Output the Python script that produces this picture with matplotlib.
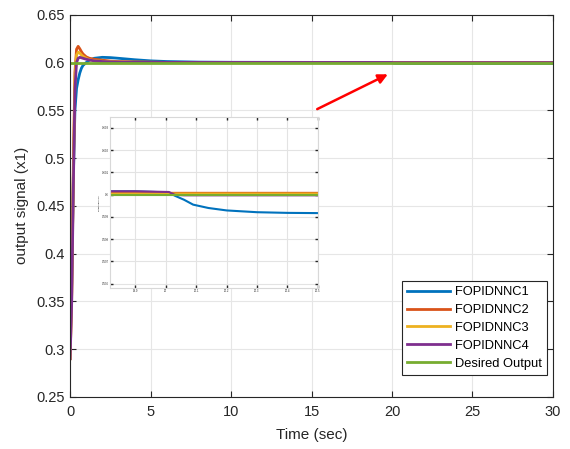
import numpy as np
import matplotlib
matplotlib.use('Agg')
import matplotlib.pyplot as plt

plt.rcParams['font.family'] = ['Liberation Sans', 'DejaVu Sans']

# time samples (s) - dense at start-up and around the disturbance at t=20
time = [0, 0.1, 0.2, 0.3, 0.4, 0.5, 0.6, 0.7, 0.8, 1.0, 1.2, 1.5, 2.0, 2.5, 3.0,
        4.0, 5.0, 6.0, 8.0, 10.0, 15.0, 19.9, 20.01, 20.03, 20.06, 20.09, 20.14,
        20.2, 20.25, 20.3, 20.4, 20.5, 21.0, 22.0, 25.0, 30.0]

fopidnnc1 = [0.30, 0.37, 0.48, 0.55, 0.573, 0.582, 0.589, 0.594, 0.597, 0.600,
             0.6025, 0.6045, 0.6055, 0.6052, 0.6045, 0.603, 0.6018, 0.6011, 0.6005,
             0.6003, 0.6002, 0.60015, 0.6001, 0.59995, 0.59977, 0.59955, 0.5994,
             0.59929, 0.59925, 0.59921, 0.59918, 0.59917, 0.59912, 0.5991, 0.5991, 0.5991]
fopidnnc2 = [0.29, 0.36, 0.49, 0.59, 0.614, 0.617, 0.6145, 0.6115, 0.609, 0.606,
             0.6045, 0.6035, 0.6025, 0.6016, 0.601, 0.6006, 0.6004, 0.6002, 0.60012,
             0.6001, 0.60009, 0.60008, 0.60008, 0.60008, 0.60008, 0.60008, 0.60008,
             0.60008, 0.60008, 0.60008, 0.60008, 0.60008, 0.60008, 0.60008, 0.60008, 0.60008]
fopidnnc3 = [0.29, 0.355, 0.48, 0.585, 0.608, 0.611, 0.610, 0.608, 0.6065, 0.6045,
             0.603, 0.602, 0.6014, 0.601, 0.6007, 0.6005, 0.6003, 0.6002, 0.6001,
             0.60007, 0.60006, 0.60005, 0.60005, 0.60005, 0.60005, 0.60005, 0.60005,
             0.60005, 0.60005, 0.60005, 0.60005, 0.60005, 0.60005, 0.60005, 0.60005, 0.60005]
fopidnnc4 = [0.29, 0.35, 0.47, 0.572, 0.600, 0.6045, 0.6055, 0.605, 0.6045, 0.6035,
             0.6027, 0.6018, 0.6011, 0.6008, 0.6006, 0.6004, 0.6003, 0.6002, 0.60017,
             0.60016, 0.60015, 0.60015, 0.60012, 0.59999, 0.59997, 0.59997, 0.59997,
             0.59997, 0.59997, 0.59997, 0.59997, 0.59997, 0.59997, 0.59997, 0.59997, 0.59997]
desired = [0.6] * len(time)

names = ['FOPIDNNC1', 'FOPIDNNC2', 'FOPIDNNC3', 'FOPIDNNC4', 'Desired Output']
colors = ['#0072BD', '#D95319', '#EDB120', '#7E2F8E', '#77AC30']
series = [fopidnnc1, fopidnnc2, fopidnnc3, fopidnnc4, desired]

fig = plt.figure(figsize=(5.7, 4.49), dpi=100)
ax = fig.add_axes([0.123, 0.116, 0.847, 0.851])

for y, c, n in zip(series, colors, names):
    ax.plot(time, y, color=c, lw=2.0, label=n)

ax.set_xlim(0, 30)
ax.set_ylim(0.25, 0.65)
ax.set_xticks(np.arange(0, 31, 5))
ax.set_yticks(np.arange(0.25, 0.651, 0.05))
ax.set_yticklabels(['0.25', '0.3', '0.35', '0.4', '0.45', '0.5', '0.55', '0.6', '0.65'])
ax.grid(True, color='#e6e6e6', lw=0.8)
ax.set_axisbelow(True)
ax.tick_params(direction='in', top=True, right=True, length=4, labelsize=10.5,
               colors='#262626')
ax.tick_params(axis='x', pad=6)
ax.tick_params(axis='y', pad=4)
for s in ax.spines.values():
    s.set_color('#262626')
    s.set_linewidth(0.8)
ax.set_xlabel('Time (sec)', fontsize=11, color='#262626', labelpad=6)
ax.set_ylabel('output signal (x1)', fontsize=11, color='#262626', labelpad=5)

leg = ax.legend(loc='lower right', bbox_to_anchor=(0.988, 0.058), borderaxespad=0,
                fontsize=9.3, fancybox=False, framealpha=1, edgecolor='#262626',
                handlelength=3.3, handletextpad=0.4, borderpad=0.4,
                labelspacing=0.45)
leg.get_frame().set_linewidth(0.8)

# zoomed view around the load change at t = 20 s
ins = ax.inset_axes([0.083, 0.285, 0.43, 0.448])
for y, c in zip(series, colors):
    ins.plot(time, y, color=c, lw=1.5)
ins.set_xlim(19.817, 20.5)
ins.set_ylim(0.5958, 0.6035)
ins.set_xticks([19.9, 20.0, 20.1, 20.2, 20.3, 20.4, 20.5])
ins.set_xticklabels(['19.9', '20', '20.1', '20.2', '20.3', '20.4', '20.5'])
ins.set_yticks([0.596, 0.597, 0.598, 0.599, 0.6, 0.601, 0.602, 0.603])
ins.set_yticklabels(['0.596', '0.597', '0.598', '0.599', '0.6', '0.601', '0.602', '0.603'])
ins.grid(True, color='#e3e3e3', lw=0.8)
ins.tick_params(direction='in', top=True, right=True, length=2, width=1,
                labelsize=2, pad=1, colors='#262626')
for s in ins.spines.values():
    s.set_color('#d8d8d8')
ins.set_ylabel('output signal (x1)', fontsize=1.5, labelpad=1)

ax.annotate('', xy=(19.9, 0.589), xytext=(15.2, 0.55),
            arrowprops=dict(arrowstyle='-|>', color='red', lw=1.8,
                            mutation_scale=14))

fig.savefig('out.png', dpi=100)
